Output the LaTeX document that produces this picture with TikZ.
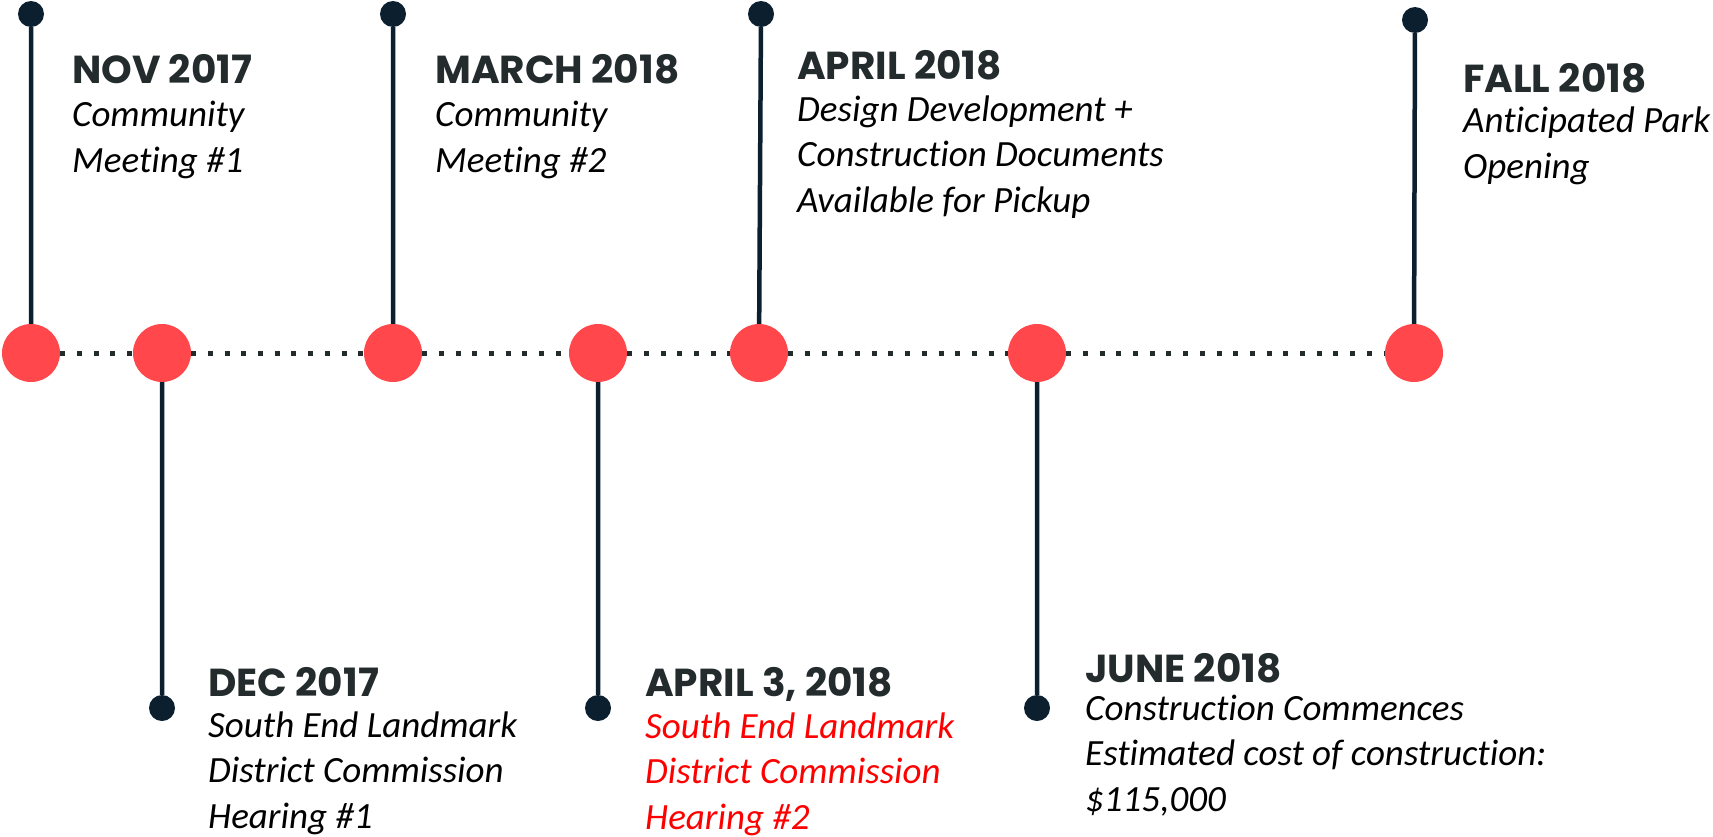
\documentclass[tikz,border=0pt]{standalone}
\usepackage{fontspec}
\setmainfont[Ligatures=CommonOff]{Carlito}
\newfontfamily\headfont{Poppins}
\usetikzlibrary{positioning}

\definecolor{evred}{HTML}{FF474C}
\definecolor{pinnavy}{HTML}{0B1F2E}
\definecolor{headgray}{HTML}{232B2D}

\tikzset{
  event/.style={circle,fill=evred,minimum size=58pt,inner sep=0pt},
  pin/.style={circle,fill=pinnavy,minimum size=26pt,inner sep=0pt},
  stem/.style={draw=pinnavy,line width=4.5pt},
  track/.style={draw=headgray,line width=5pt,dash pattern=on 5pt off 11.7pt},
  when/.style={anchor=base west,inner sep=0pt,text=headgray,
    font=\headfont\bfseries\fontsize{39}{44}\selectfont},
  % base of a multi-line node = baseline of its last line
  what/.style={anchor=base west,inner sep=0pt,align=left,
    font=\itshape\fontsize{37}{45.5}\selectfont},
}

\begin{document}
\begin{tikzpicture}[x=1pt,y=-1pt]
  \useasboundingbox (0,0) rectangle (1713,836);

  % the events on the track
  \node [event] (nov)   at (31,353)   {};
  \node [event] (dec)   at (162,353)  {};
  \node [event] (march) at (393,353)  {};
  \node [event] (aprthree) at (598,353) {};
  \node [event] (april) at (759,353)  {};
  \node [event] (june)  at (1037,353) {};
  \node [event] (fall)  at (1414,353) {};

  \path [track] (nov) -- (dec) (dec) -- (march) (march) -- (aprthree)
    (aprthree) -- (april) (april) -- (june) (june) -- (fall);

  % pins
  \node [pin] (novpin)   at (31,14)   {};
  \node [pin] (decpin)   at (162,708) {};
  \node [pin] (marchpin) at (393,14)  {};
  \node [pin] (aprthreepin) at (598,708) {};
  \node [pin] (aprilpin) at (761,14)  {};
  \node [pin] (junepin)  at (1037,708) {};
  \node [pin] (fallpin)  at (1415,20) {};

  \path [stem] (novpin) -- (nov) (decpin) -- (dec) (marchpin) -- (march)
    (aprthreepin) -- (aprthree) (aprilpin) -- (april) (junepin) -- (june)
    (fallpin) -- (fall);

  % labels
  \node [when] (novwhen) at (72,83) {NOV 2017};
  \node [what] (novwhat) at (72,172) {Community\\Meeting \#1};

  \node [when] (decwhen) at (208,696) {DEC 2017};
  \node [what] (decwhat) at (208,828) {South End Landmark\\District Commission\\Hearing \#1};

  \node [when] (marchwhen) at (435,83) {MARCH 2018};
  \node [what] (marchwhat) at (435,172) {Community\\Meeting \#2};

  \node [when] (aprthreewhen) at (645,696) {APRIL 3, 2018};
  \node [what,text=red] (aprthreewhat) at (645,829) {South End Landmark\\District Commission\\Hearing \#2};

  \node [when] (aprilwhen) at (797,79) {APRIL 2018};
  \node [what] (aprilwhat) at (797,212) {Design Development +\\Construction Documents\\Available for Pickup};

  \node [when] (junewhen) at (1085,682) {JUNE 2018};
  \node [what] (junewhat) at (1085,811) {Construction Commences\\Estimated cost of construction:\\\$115,000};

  \node [when] (fallwhen) at (1463,92) {FALL 2018};
  \node [what] (fallwhat) at (1463,178) {Anticipated Park\\Opening};
\end{tikzpicture}
\end{document}
